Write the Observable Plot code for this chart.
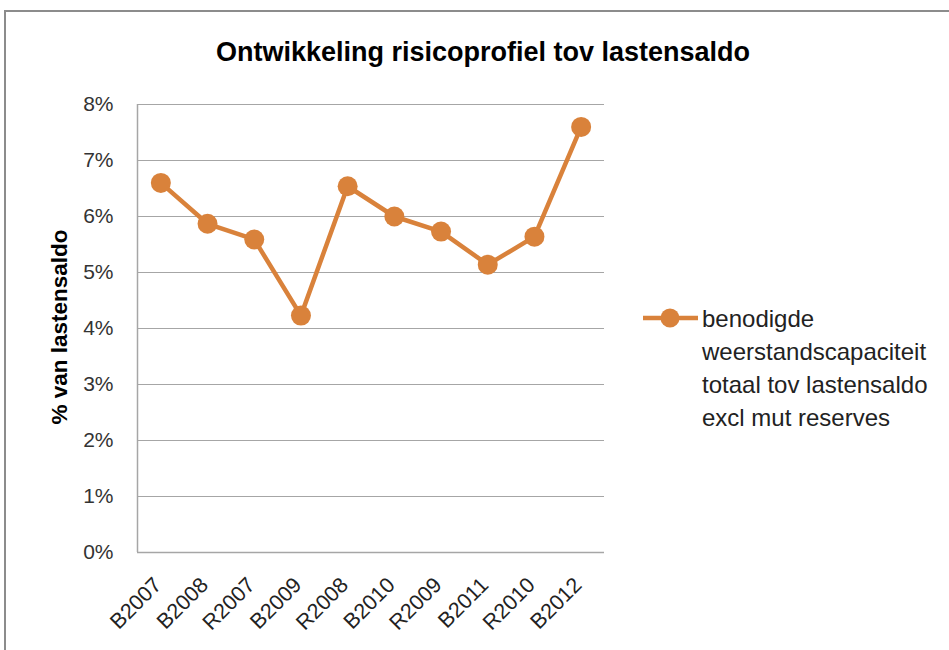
<!DOCTYPE html>
<html>
<head>
<meta charset="utf-8">
<script src="https://cdn.jsdelivr.net/npm/d3@7"></script>
<script src="https://cdn.jsdelivr.net/npm/@observablehq/plot@0.6"></script>
<style>
  html, body { margin: 0; padding: 0; background: #fff; overflow: hidden; }
  #wrap { position: relative; width: 949px; height: 650px; font-family: "Liberation Sans", Arial, sans-serif; color: #222; }
  #frame { position: absolute; left: 4px; top: 10px; width: 980px; height: 700px; border: 2px solid #8c8c8c; box-sizing: border-box; }
  #title { position: absolute; left: 0; width: 966px; top: 37px; text-align: center; font-weight: bold; font-size: 27px; color: #000; }
  #ylab { position: absolute; left: 60px; top: 327px; transform: translate(-50%, -50%) rotate(-90deg); font-weight: bold; font-size: 22.5px; white-space: nowrap; color: #000; }
  #legend { position: absolute; left: 642px; top: 304px; }
  #legend .txt { position: absolute; left: 60px; top: -2px; font-size: 24px; line-height: 33px; white-space: nowrap; color: #222; }
  #chart { position: absolute; left: 0; top: 0; }
</style>
</head>
<body>
<div id="wrap">
  <div id="frame"></div>
  <div id="chart"></div>
  <div id="title">Ontwikkeling risicoprofiel tov lastensaldo</div>
  <div id="ylab">% van lastensaldo</div>
  <div id="legend">
    <svg width="60" height="30" style="position:absolute;left:0;top:0">
      <line x1="1" y1="14" x2="56" y2="14" stroke="#d9823b" stroke-width="4.5"/>
      <circle cx="28" cy="14" r="9.5" fill="#d9823b"/>
    </svg>
    <div class="txt">benodigde<br>weerstandscapaciteit<br>totaal tov lastensaldo<br>excl mut reserves</div>
  </div>
</div>
<script>
const categories = ["B2007","B2008","R2007","B2009","R2008","B2010","R2009","B2011","R2010","B2012"];
const values = [0.0660, 0.0587, 0.0559, 0.0423, 0.0654, 0.0600, 0.0573, 0.0514, 0.0564, 0.0760];
const yTicks = [0, 0.01, 0.02, 0.03, 0.04, 0.05, 0.06, 0.07, 0.08];
const seriesName = "benodigde weerstandscapaciteit totaal tov lastensaldo excl mut reserves";

const data = categories.map((c, i) => ({category: c, value: values[i], series: seriesName}));
const color = "#d9823b";

const chart = Plot.plot({
  width: 949,
  height: 650,
  marginLeft: 137,
  marginRight: 345,
  marginTop: 104,
  marginBottom: 98,
  style: {fontFamily: "'Liberation Sans', Arial, sans-serif", background: "transparent"},
  x: {type: "point", domain: categories, padding: 0.5, round: false},
  y: {domain: [0, 0.08]},
  marks: [
    Plot.gridY(yTicks, {stroke: "#a6a6a6", strokeOpacity: 1, strokeWidth: 1.2}),
    Plot.ruleY([0], {stroke: "#a6a6a6", strokeWidth: 1.5}),
    Plot.axisY({ticks: yTicks, tickFormat: d3.format(".0%"), tickSize: 0, tickPadding: 24, fontSize: 21, fill: "#333", label: null}),
    Plot.axisX({tickRotate: -45, tickSize: 0, tickPadding: 29, dx: -3, fontSize: 21.5, fill: "#222", label: null}),
    Plot.line(data, {x: "category", y: "value", stroke: color, strokeWidth: 4.5}),
    Plot.dot(data, {x: "category", y: "value", r: 10, fill: color, stroke: "none"})
  ]
});
// left axis line
const svg = d3.select(chart);
svg.append("line").attr("x1", 137.5).attr("x2", 137.5).attr("y1", 104).attr("y2", 552).attr("stroke", "#a6a6a6").attr("stroke-width", 1.5);
document.getElementById("chart").appendChild(chart);
</script>
</body>
</html>
